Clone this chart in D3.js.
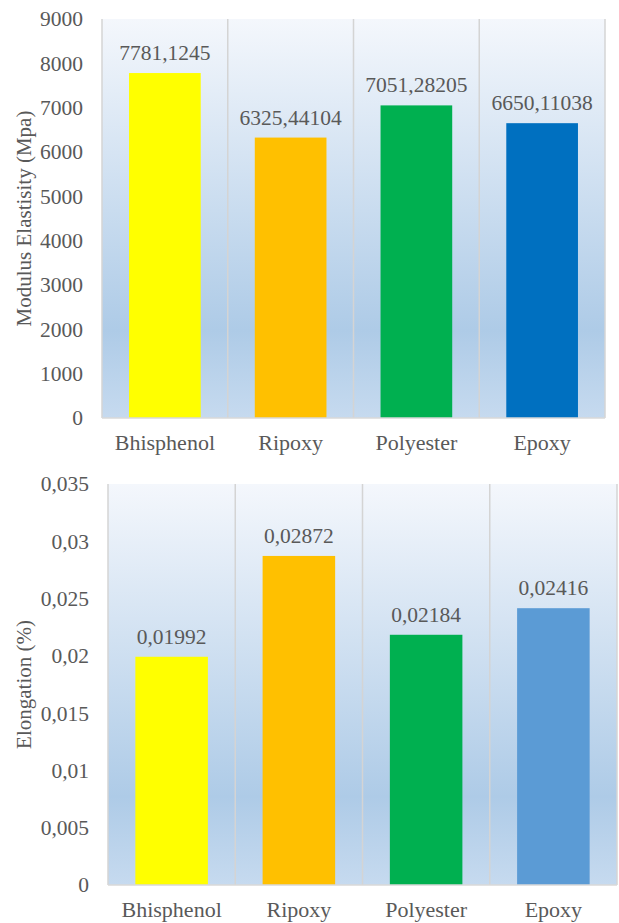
<!DOCTYPE html>
<html>
<head>
<meta charset="utf-8">
<script src="https://cdn.jsdelivr.net/npm/d3@7/dist/d3.min.js"></script>
<style>
  html, body { margin: 0; padding: 0; background: #ffffff; }
</style>
</head>
<body>
<svg id="chart" width="619" height="923"></svg>
<script>
// Materials compared in both panels
const categories = ["Bhisphenol", "Ripoxy", "Polyester", "Epoxy"];

// Panel 1: modulus of elasticity (MPa)
const modulusValues = [7781.1245, 6325.44104, 7051.28205, 6650.11038];
const modulusLabels = ["7781,1245", "6325,44104", "7051,28205", "6650,11038"];
const modulusTicks = [0, 1000, 2000, 3000, 4000, 5000, 6000, 7000, 8000, 9000];
const modulusColors = ["#ffff00", "#ffc000", "#00b050", "#0070c0"];

// Panel 2: elongation (%)
const elongationValues = [0.01992, 0.02872, 0.02184, 0.02416];
const elongationLabels = ["0,01992", "0,02872", "0,02184", "0,02416"];
const elongationTicks = [0, 0.005, 0.01, 0.015, 0.02, 0.025, 0.03, 0.035];
const elongationColors = ["#ffff00", "#ffc000", "#00b050", "#5b9bd5"];

const FONT = "'Liberation Serif', 'Times New Roman', serif";
const INK = "#595959";

const svg = d3.select("#chart");

// Shared plot-area background gradient
const defs = svg.append("defs");
const grad = defs.append("linearGradient")
  .attr("id", "plotBg").attr("x1", 0).attr("y1", 0).attr("x2", 0).attr("y2", 1);
grad.append("stop").attr("offset", "0").attr("stop-color", "#f4f7fc");
grad.append("stop").attr("offset", "0.78").attr("stop-color", "#aecbe7");
grad.append("stop").attr("offset", "1").attr("stop-color", "#c6daef");

const fmtComma = d => String(d).replace(".", ",");

function styleText(sel, size) {
  sel.style("font-family", FONT)
     .style("font-size", size + "px")
     .style("fill", INK);
}

function drawPanel(cfg) {
  const g = svg.append("g");
  const x = d3.scaleBand()
    .domain(categories)
    .range([cfg.left, cfg.right])
    .paddingInner(0.43)
    .paddingOuter(0.215);
  const y = d3.scaleLinear()
    .domain([0, cfg.max])
    .range([cfg.bottom, cfg.top]);
  const step = x.step();

  // background
  g.append("rect")
    .attr("x", cfg.left).attr("y", cfg.top)
    .attr("width", cfg.right - cfg.left).attr("height", cfg.bottom - cfg.top)
    .attr("fill", "url(#plotBg)");

  // vertical separators between categories
  const seps = d3.range(categories.length + 1).map(i => cfg.left + i * step);
  g.selectAll("line.sep").data(seps).join("line")
    .attr("class", "sep")
    .attr("x1", d => d).attr("x2", d => d)
    .attr("y1", cfg.top).attr("y2", cfg.bottom)
    .attr("stroke", "#d4d4d4").attr("stroke-width", 1.5);

  // bars
  g.selectAll("rect.bar").data(cfg.values).join("rect")
    .attr("class", "bar")
    .attr("x", (d, i) => x(categories[i]))
    .attr("width", x.bandwidth())
    .attr("y", d => y(d))
    .attr("height", d => cfg.bottom - y(d))
    .attr("fill", (d, i) => cfg.colors[i]);

  // baseline
  g.append("line")
    .attr("x1", cfg.left).attr("x2", cfg.right)
    .attr("y1", cfg.bottom).attr("y2", cfg.bottom)
    .attr("stroke", "#d9d9d9").attr("stroke-width", 1.5);

  // value labels
  g.selectAll("text.val").data(cfg.values).join("text")
    .attr("class", "val")
    .attr("x", (d, i) => x(categories[i]) + x.bandwidth() / 2)
    .attr("y", d => y(d) - 13)
    .attr("text-anchor", "middle")
    .text((d, i) => cfg.labels[i])
    .call(styleText, 21.5);

  // y axis
  const yAxis = d3.axisLeft(y)
    .tickValues(cfg.ticks)
    .tickSize(0)
    .tickPadding(0)
    .tickFormat(cfg.tickFormat);
  const ya = g.append("g")
    .attr("transform", `translate(${cfg.tickRight},0)`)
    .call(yAxis);
  ya.select(".domain").remove();
  ya.selectAll("text").call(styleText, 21.5);

  // x axis labels
  const xAxis = d3.axisBottom(x).tickSize(0).tickPadding(0);
  const xa = g.append("g")
    .attr("transform", `translate(0,${cfg.bottom})`)
    .call(xAxis);
  xa.select(".domain").remove();
  xa.selectAll("text")
    .attr("y", cfg.catOffset)
    .attr("dy", 0)
    .call(styleText, 22);

  // y title
  g.append("text")
    .attr("transform", `translate(${cfg.titleX},${(cfg.top + cfg.bottom) / 2}) rotate(-90)`)
    .attr("text-anchor", "middle")
    .text(cfg.title)
    .call(styleText, 21);
}

drawPanel({
  left: 102, right: 605, top: 19, bottom: 418,
  max: 9000, values: modulusValues, labels: modulusLabels,
  ticks: modulusTicks, colors: modulusColors,
  tickFormat: d => String(d), tickRight: 83,
  catOffset: 32, titleX: 31,
  title: "Modulus Elastisity (Mpa)"
});

drawPanel({
  left: 108, right: 617, top: 484, bottom: 885,
  max: 0.035, values: elongationValues, labels: elongationLabels,
  ticks: elongationTicks, colors: elongationColors,
  tickFormat: d => fmtComma(d3.format("~g")(d)), tickRight: 89,
  catOffset: 32, titleX: 31,
  title: "Elongation (%)"
});
</script>
</body>
</html>
